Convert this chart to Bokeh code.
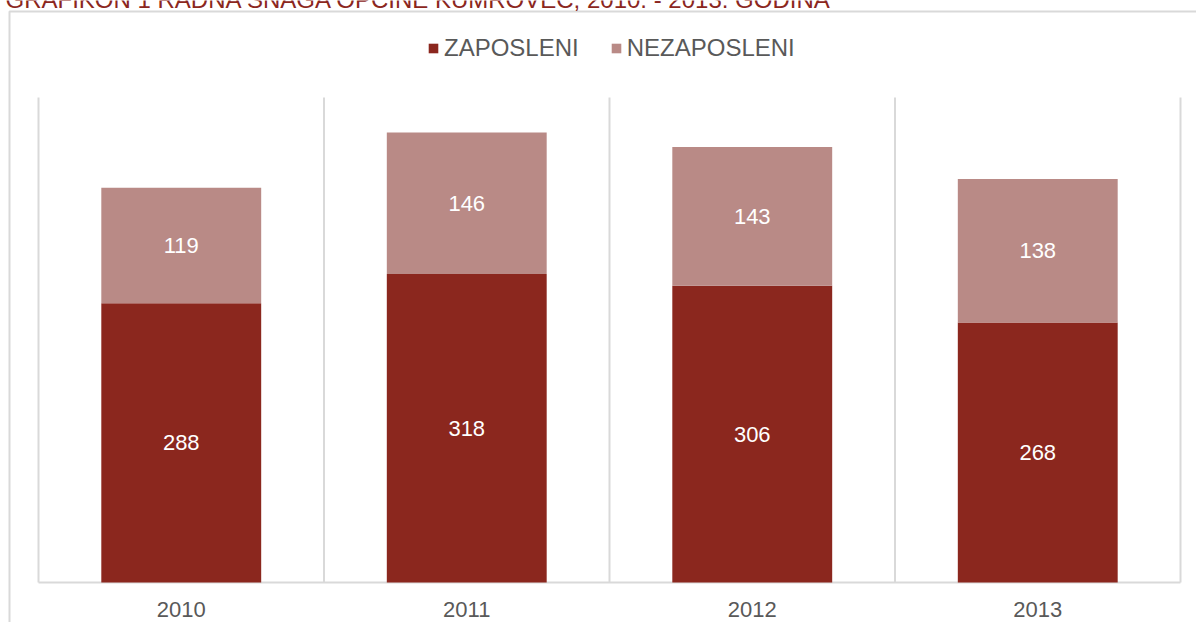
from bokeh.plotting import figure
from bokeh.models import Legend, LegendItem, Label, ColumnDataSource, Range1d
from bokeh.core.properties import value
from bokeh.embed import file_html
from bokeh.resources import INLINE

# ---- data ----
years = ["2010", "2011", "2012", "2013"]
zaposleni = [288, 318, 306, 268]
nezaposleni = [119, 146, 143, 148]          # bar heights as drawn
zaposleni_labels = ["288", "318", "306", "268"]
nezaposleni_labels = ["119", "146", "143", "138"]   # labels as printed
series_names = ["ZAPOSLENI", "NEZAPOSLENI"]
title_text = "GRAFIKON 1 RADNA SNAGA OPĆINE KUMROVEC, 2010. - 2013. GODINA"
y_max = 500

# ---- styling / layout ----
DARK = "#8B271E"
LIGHT = "#B98A86"
TXT = "#595959"
GRID = "#D9D9D9"
FONT = "Liberation Sans"
W, H = 1196, 622
AX_LEFT, AX_RIGHT, AX_TOP, AX_BOTTOM = 38, 1180, 97, 582   # plot area in px
n = len(years)
px_per_x = (AX_RIGHT - AX_LEFT) / n
px_per_y = (AX_BOTTOM - AX_TOP) / y_max
x_start = -0.5 - AX_LEFT / px_per_x
x_end = n - 0.5 + (W - AX_RIGHT) / px_per_x
y_end = AX_BOTTOM / px_per_y
y_start = -(H - AX_BOTTOM) / px_per_y


def dx(px):
    return x_start + px / px_per_x


def dy(py):
    return y_end - py / px_per_y


xs = list(range(n))
bounds = [i - 0.5 for i in range(n + 1)]
totals = [a + b for a, b in zip(zaposleni, nezaposleni)]
src = ColumnDataSource(dict(
    x=xs, z=zaposleni, n=nezaposleni, tot=totals,
    zmid=[a / 2 for a in zaposleni],
    nmid=[a + b / 2 for a, b in zip(zaposleni, nezaposleni)],
    zlab=zaposleni_labels, nlab=nezaposleni_labels,
))

p = figure(width=W, height=H, output_backend="svg", toolbar_location=None,
           x_range=Range1d(x_start, x_end), y_range=Range1d(y_start, y_end),
           min_border_left=0, min_border_right=0, min_border_top=0,
           min_border_bottom=0)
p.outline_line_color = None
p.background_fill_color = "white"
p.border_fill_color = "white"
p.xaxis.visible = False
p.yaxis.visible = False
p.xgrid.grid_line_color = None
p.ygrid.grid_line_color = None

# outer chart border (left and top edges are the only visible ones)
p.line(x=[dx(9), dx(9), dx(W + 10)], y=[dy(H + 10), dy(11), dy(11)],
       line_color=GRID, line_width=2)

# category separators and category axis line
p.segment(x0=bounds, y0=[0] * len(bounds), x1=bounds, y1=[y_max] * len(bounds),
          line_color=GRID, line_width=2)
p.segment(x0=[bounds[0]], y0=[0], x1=[bounds[-1]], y1=[0],
          line_color=GRID, line_width=2)

r1 = p.vbar(x="x", width=0.56, bottom=0, top="z", source=src,
            fill_color=DARK, line_color=None)
r2 = p.vbar(x="x", width=0.56, bottom="z", top="tot", source=src,
            fill_color=LIGHT, line_color=None)

p.text(x="x", y="zmid", text="zlab", source=src, text_color="white",
       text_font=value(FONT), text_font_size="22px",
       text_align="center", text_baseline="middle")
p.text(x="x", y="nmid", text="nlab", source=src, text_color="white",
       text_font=value(FONT), text_font_size="22px",
       text_align="center", text_baseline="middle")

# category labels
p.text(x=xs, y=[dy(609)] * n, text=years, text_color=TXT,
       text_font=value(FONT), text_font_size="22px",
       text_align="center", text_baseline="middle")

legend = Legend(items=[LegendItem(label=series_names[0], renderers=[r1]),
                       LegendItem(label=series_names[1], renderers=[r2])],
                orientation="horizontal", location=(427, H - 62),
                label_text_font=FONT, label_text_font_size="24px",
                label_text_color=TXT, glyph_width=12, glyph_height=12,
                label_standoff=5, spacing=31, padding=0, margin=0,
                border_line_color=None, background_fill_alpha=0)
p.add_layout(legend)

title = Label(x=5, y=H + 1, x_units="screen", y_units="screen", text=title_text,
              text_font=FONT, text_font_size="24px", text_color=DARK,
              text_baseline="alphabetic")
p.add_layout(title)

open("out.html", "w").write(file_html(p, INLINE))
